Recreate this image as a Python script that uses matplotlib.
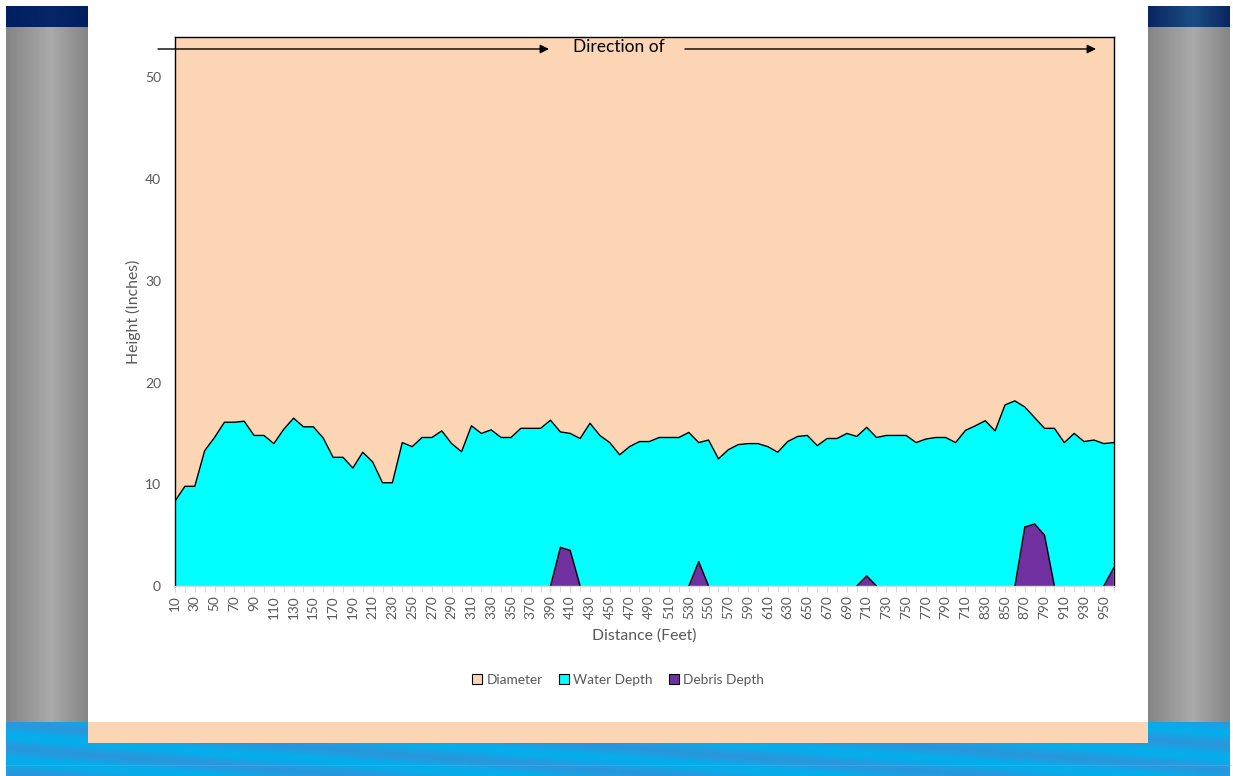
import numpy as np
import matplotlib
matplotlib.use("Agg")
import matplotlib.pyplot as plt
from matplotlib.patches import Patch

plt.rcParams['font.family'] = ['Lato', 'DejaVu Sans']

# ---- data -------------------------------------------------------------
distances = [
    10, 20, 30, 40, 50, 60, 70, 80, 90, 100,
    110, 120, 130, 140, 150, 160, 170, 180, 190, 200,
    210, 220, 230, 240, 250, 260, 270, 280, 290, 300,
    310, 320, 330, 340, 350, 360, 370, 380, 390, 400,
    410, 420, 430, 440, 450, 460, 470, 480, 490, 500,
    510, 520, 530, 540, 550, 560, 570, 580, 590, 600,
    610, 620, 630, 640, 650, 660, 670, 680, 690, 700,
    710, 720, 730, 740, 750, 760, 770, 780, 790, 800,
    710, 820, 830, 840, 850, 860, 870, 880, 790, 900,
    910, 920, 930, 940, 950, 960,
]

water_depth = [
    8.35, 9.8, 9.8, 13.3, 14.6, 16.1, 16.1, 16.2, 14.8, 14.8,
    14.0, 15.4, 16.5, 15.65, 15.65, 14.55, 12.65, 12.65, 11.6, 13.15,
    12.2, 10.15, 10.15, 14.1, 13.7, 14.6, 14.6, 15.25, 14.0, 13.2,
    15.75, 15.0, 15.35, 14.6, 14.6, 15.5, 15.5, 15.5, 16.3, 15.15,
    15.0, 14.5, 16.0, 14.8, 14.1, 12.9, 13.7, 14.2, 14.2, 14.6,
    14.6, 14.6, 15.1, 14.1, 14.35, 12.5, 13.4, 13.9, 14.0, 14.0,
    13.7, 13.15, 14.2, 14.7, 14.8, 13.8, 14.5, 14.5, 15.0, 14.7,
    15.6, 14.6, 14.8, 14.8, 14.8, 14.1, 14.45, 14.6, 14.6, 14.1,
    15.3, 15.75, 16.25, 15.25, 17.8, 18.2, 17.6, 16.55, 15.5, 15.5,
    14.1, 15.0, 14.2, 14.35, 14.0, 14.1,
]

debris_depth = [0.0] * 96
debris_depth[39] = 3.8
debris_depth[40] = 3.5
debris_depth[53] = 2.4
debris_depth[70] = 1.0
debris_depth[86] = 5.8
debris_depth[87] = 6.1
debris_depth[88] = 5.0
debris_depth[95] = 1.8

pipe_diameter = 54
diameter = [pipe_diameter] * len(distances)

y_ticks = [0, 10, 20, 30, 40, 50]
series_names = ["Diameter", "Water Depth", "Debris Depth"]
series_colors = ["#FCD5B5", "#00FFFF", "#7030A0"]

# ---- figure -----------------------------------------------------------
W, H = 1233, 776
fig = plt.figure(figsize=(W / 100, H / 100), dpi=100)
fig.patch.set_facecolor("white")

# decorative frame drawn in pixel coordinates
bg = fig.add_axes([0, 0, 1, 1], zorder=0)
bg.set_xlim(0, W)
bg.set_ylim(H, 0)
bg.axis("off")


def hgrad(ax, x0, x1, y0, y1, c_edge, c_mid, peak=0.55):
    t = np.linspace(0, 1, 200)
    w = np.where(t < peak, t / peak, (1 - t) / (1 - peak))
    ce = np.array(matplotlib.colors.to_rgb(c_edge))
    cm = np.array(matplotlib.colors.to_rgb(c_mid))
    img = ce[None, :] * (1 - w[:, None]) + cm[None, :] * w[:, None]
    ax.imshow(img[None, :, :], extent=(x0, x1, y1, y0), aspect="auto",
              interpolation="bilinear", zorder=1)


def water_band(ax, x0, x1, y0, y1):
    xx, yy = np.meshgrid(np.linspace(x0, x1, 600), np.linspace(y0, y1, 60))
    s = 0.5 + 0.5 * np.sin((xx * 0.02 - yy * 0.25))
    c1 = np.array(matplotlib.colors.to_rgb("#04AEEB"))
    c2 = np.array(matplotlib.colors.to_rgb("#3A8ED8"))
    img = c1 * (1 - s[..., None] * 0.7) + c2 * (s[..., None] * 0.7)
    ax.imshow(img, extent=(x0, x1, y1, y0), aspect="auto",
              interpolation="bilinear", zorder=1)


# pillars
hgrad(bg, 6, 88, 27, 722, "#858585", "#AAAAAA")
hgrad(bg, 1148, 1230, 27, 722, "#858585", "#AAAAAA")
# pillar caps
hgrad(bg, 6, 88, 6, 27, "#001F5E", "#062668")
hgrad(bg, 1148, 1230, 6, 27, "#0A2560", "#1C4C84")
# water at the bottom
water_band(bg, 6, 1230, 722, 776)
bg.add_patch(plt.Rectangle((88, 722), 1060, 21, facecolor="#FCD5B5",
                           edgecolor="none", zorder=2))
bg.plot([6, 1230], [765, 765], color="#5BA3E0", lw=0.8, alpha=0.6, zorder=2)

# ---- chart ------------------------------------------------------------
x0, x1, yt, yb = 175, 1113.7, 36.7, 586
ax = fig.add_axes([x0 / W, 1 - yb / H, (x1 - x0) / W, (yb - yt) / H], zorder=2)
ax.patch.set_alpha(0)

x = np.arange(len(distances))
ax.fill_between(x, 0, diameter, facecolor=series_colors[0], edgecolor="none", zorder=1)
ax.fill_between(x, 0, water_depth, facecolor=series_colors[1], edgecolor="none", zorder=2)
ax.plot(x, water_depth, color="black", lw=1.0, zorder=3)

deb = np.array(debris_depth)
ax.fill_between(x, 0, deb, facecolor=series_colors[2], edgecolor="none", zorder=4)
# outline only segments touching a non-zero value
for i in range(len(deb) - 1):
    if deb[i] > 0 or deb[i + 1] > 0:
        ax.plot(x[i:i + 2], deb[i:i + 2], color="black", lw=1.0, zorder=5,
                solid_capstyle="round")

ax.set_xlim(0, len(distances) - 1)
ax.set_ylim(0, pipe_diameter)

for side in ("left", "top", "right"):
    ax.spines[side].set_color("black")
    ax.spines[side].set_linewidth(1.0)
ax.spines["bottom"].set_color("#D9D9D9")
ax.spines["bottom"].set_linewidth(1.0)
ax.spines["bottom"].set_zorder(6)

ax.set_yticks(y_ticks)
ax.set_yticklabels([str(v) for v in y_ticks])
ax.tick_params(axis="y", length=0, pad=10, labelsize=10, labelcolor="#595959")

major = x[::2]
ax.set_xticks(major)
ax.set_xticklabels([str(distances[i]) for i in major], rotation=90)
ax.set_xticks(x[1::2], minor=True)
ax.tick_params(axis="x", which="both", length=4.5, color="#D9D9D9",
               labelsize=9.8, labelcolor="#595959", pad=2)

ax.set_xlabel("Distance (Feet)", fontsize=11.3, color="#595959", labelpad=7)
ax.set_ylabel("Height (Inches)", fontsize=11.3, color="#595959", labelpad=3)

# direction indicator, drawn above the chart
top = fig.add_axes([0, 0, 1, 1], zorder=10)
top.set_xlim(0, W)
top.set_ylim(H, 0)
top.axis("off")
top.patch.set_alpha(0)
top.text(619, 47.5, "Direction of", ha="center", va="center",
         fontsize=12.5, color="black")
arrow_kw = dict(arrowstyle="-|>", color="black", lw=1.0, mutation_scale=13,
                shrinkA=0, shrinkB=0)
top.annotate("", xy=(549, 49), xytext=(158, 49), arrowprops=arrow_kw)
top.annotate("", xy=(1096, 49), xytext=(685, 49), arrowprops=arrow_kw)

# legend
handles = [Patch(facecolor=c, edgecolor="black", lw=0.8) for c in series_colors]
leg = fig.legend(handles, series_names, loc="center", ncol=3,
                 bbox_to_anchor=(618 / W, 1 - 680 / H), frameon=False,
                 fontsize=9.8, handlelength=0.75, handleheight=0.75,
                 handletextpad=0.3, columnspacing=1.2)
for t in leg.get_texts():
    t.set_color("#595959")

fig.savefig("out.png", dpi=100, facecolor="white")
